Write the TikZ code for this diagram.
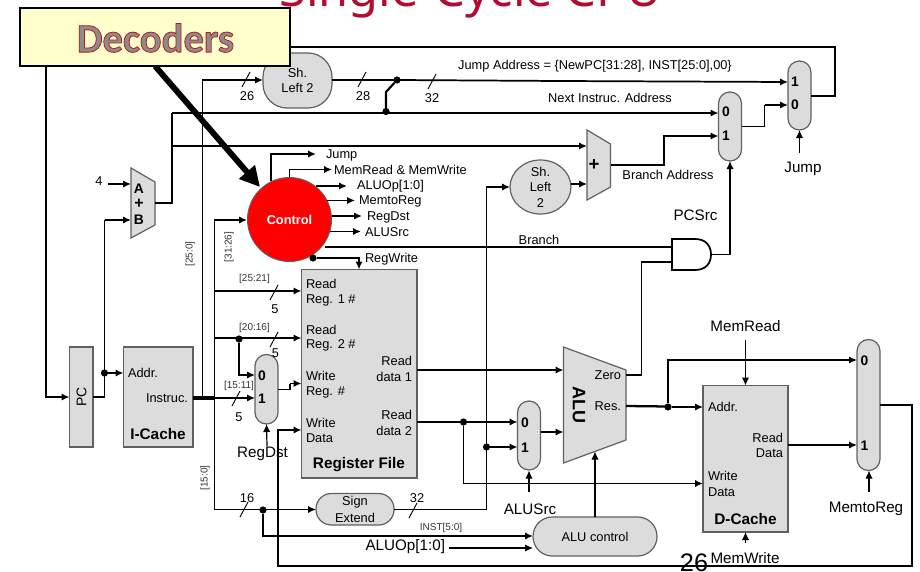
\documentclass[tikz,border=0pt]{standalone}
\usepackage{fontspec}
\setmainfont{Liberation Sans}
\newfontfamily\titlefont{Noto Sans}
\newfontfamily\boxfont{Carlito}[FakeBold=0]
\usetikzlibrary{arrows.meta,shapes.geometric}
\definecolor{blockgray}{HTML}{DCDCDC}
\definecolor{edgegray}{HTML}{606060}
\definecolor{titlered}{HTML}{B00D30}
\definecolor{noteyellow}{HTML}{FFFFCC}
\newcommand\blk[6]{\node[#6,minimum width={(#4-#2)*0.75pt},minimum height={(#5-#3)*0.75pt}] (#1) at ({(#2+#4)/2},{(#3+#5)/2}) {};}
\newcommand\slashmark[2]{\draw[tickline] ({#1-4},{#2+8}) -- ({#1+4},{#2-7});}
\tikzset{
  x=0.75pt,y=-0.75pt,
  wire/.style={line width=1.3pt,black},
  arr/.style={wire,-{Latex[length=6pt,width=5.5pt]}},
  thinarr/.style={line width=0.9pt,black,-{Latex[length=6pt,width=5.5pt]}},
  tickline/.style={line width=0.7pt,black},
  bus/.style={line width=2.4pt,black},
  blockbox/.style={draw=edgegray,line width=0.9pt,fill=blockgray,inner sep=0pt,outer sep=0pt},
  muxbox/.style={blockbox,rounded corners=8.6pt},
  lbl/.style={inner sep=0pt,outer sep=0pt,font=\fontsize{9.6pt}{10pt}\selectfont},
  lblbig/.style={lbl,font=\fontsize{11.4pt}{12pt}\selectfont},
  lblsmall/.style={lbl,font=\fontsize{7.5pt}{8pt}\selectfont,text=black!80},
  lbold/.style={lbl,font=\fontsize{10.4pt}{11pt}\bfseries\selectfont},
  titlebold/.style={lbl,font=\fontsize{11.5pt}{12pt}\bfseries\selectfont},
  dotmark/.style={circle,fill=black,inner sep=0pt,minimum size=5.4pt,outer sep=0pt},
}
\begin{document}
\begin{tikzpicture}
\useasboundingbox (0,0) rectangle (920,571);
\begin{scope}
\clip (0,0) rectangle (920,571);
\node[inner sep=0pt,anchor=base,text=titlered,font=\fontsize{36.5pt}{38pt}\titlefont] (title) at (470.5,7) {Single-Cycle CPU};
\end{scope}

% blocks
\blk{pc}{69.5}{347}{93}{447}{blockbox}
\blk{icache}{123.5}{347}{193}{447}{blockbox}
\blk{reg}{301.5}{269.5}{417}{478}{blockbox}
\blk{dcache}{703}{385.5}{788}{532}{blockbox}
\blk{muxpc}{718.5}{92}{741.5}{161}{muxbox}
\blk{muxj}{788}{61}{811}{130}{muxbox}
\blk{muxrd}{255}{354.5}{278}{424}{muxbox}
\blk{muxalu}{517.5}{401}{540.5}{470}{muxbox}
\blk{muxmem}{857}{339.5}{880}{470.5}{muxbox}
\blk{sla}{263}{53}{332}{108}{blockbox,rounded corners=18pt}
\blk{sext}{316}{493.5}{394}{525}{blockbox,rounded corners=11.5pt}
\blk{aluc}{533}{517}{657}{556}{blockbox,rounded corners=14.5pt}
\node[blockbox,ellipse,minimum width=45.7pt,minimum height=40.5pt] (slb) at (540.5,187) {};
\draw[blockbox] (131,168) -- (155,182) -- (155,225) -- (131,238) -- cycle;
\draw[blockbox] (587,130) -- (610.5,144) -- (610.5,187) -- (587,200) -- cycle;
\draw[blockbox] (563.5,347) -- (626,370) -- (626,440) -- (563.5,463) -- cycle;
\coordinate (adda) at (131,184);
\coordinate (addb) at (131,220);
\coordinate (addo) at (155,203);
\coordinate (addbt) at (587,146);
\coordinate (addbb) at (587,184);
\coordinate (addbo) at (610.5,165);
\coordinate (alua) at (563.5,370);
\coordinate (alub) at (563.5,432);
\coordinate (aluzero) at (626,375);
\coordinate (alures) at (626,406);
\coordinate (aluc-in) at (595,451.5);
\coordinate (bus1) at (202.5,398);
\coordinate (bus2) at (214.5,398);
\coordinate (fourtail) at (108,184);
\coordinate (rdsel) at (267,446);
\coordinate (alusel) at (529,492);
\coordinate (memsel) at (869,492);
\coordinate (jsel) at (799.5,153);
\coordinate (mrsel) at (745.5,340);
\coordinate (mwsel) at (745.5,543);

% AND gate
\draw[wire,fill=white] (672,239) -- (695,239) .. controls (706,239) and (711,246) .. (711,254.5) .. controls (711,263) and (706,270) .. (695,270) -- (672,270) -- cycle;
\coordinate (anda) at (672,247);
\coordinate (andb) at (672,262);
\coordinate (ando) at (711,254.5);

% wires: PC and instruction paths
\draw[arr] (muxj.east |- 0,96) -- (835,96) -- (835,47) -- (46,47) -- (46,397) -- (pc.west |- 0,397);
\draw[wire] (pc.east |- 0,397) -- (104.5,397) -- (104.5,220);
\draw[arr] (104.5,220) -- (addb);
\node[dotmark] (dpc) at (104.5,373) {};
\draw[arr] (dpc) -- (icache.west |- dpc);
\draw[arr] (fourtail) -- (adda);
\draw[wire] (addo) -- (172,203) -- (172,113);
\draw[arr] (172,113) -- (muxpc.west |- 0,113);
\draw[arr] (172,146) -- (addbt);
\draw[bus] (icache.east |- bus1) -- (bus2);
\draw[arr] (bus1) -- (202.5,80) -- (sla.west |- 0,80);
\draw[arr] (bus2) -- (214.5,220) -- (247,220);
\draw[arr] (bus2) -- (214.5,509.5) -- (sext.west |- 0,509.5);
\draw[wire] (sla.east |- 0,80) -- (397,80);
\draw[arr] (397,80) -- (560,81) -- (muxj.west |- 0,82);
\node[dotmark] (dj) at (397,80) {};
\node[dotmark] (dn) at (386,111.5) {};
\draw[line width=1.6pt] (dn) -- (386,92) -- (dj);
\draw[arr] (addbo) -- (664,165) -- (664,136) -- (muxpc.west |- 0,136);
\draw[wire] (muxpc.east |- 0,126.5) -- (764.5,126.5) -- (764.5,105);
\draw[arr] (764.5,105) -- (muxj.west |- 0,105);
\draw[thinarr] (jsel) -- (muxj.south);
\draw[arr] (slb.east) ++(0,-3) -- (addbb);
\draw[wire] (sext.east |- 0,509.5) -- (486.5,509.5);
\draw[arr] (486.5,509.5) -- (486.5,187) -- (slb.west);
\node[dotmark] (dse) at (486.5,447) {};
\draw[arr] (dse) -- (muxalu.west |- dse);
\node[dotmark] (drd) at (463.5,422) {};
\draw[wire] (reg.east |- drd) -- (drd);
\draw[arr] (drd) -- (muxalu.west |- drd);
\draw[arr] (drd) -- (463.5,483.5) -- (dcache.west |- 0,483.5);
\draw[arr] (reg.east |- 0,370) -- (alua);
\draw[arr] (muxalu.east |- alub) -- (alub);
\draw[thinarr] (alusel) -- (529,470.5);
\draw[wire] (aluzero) -- (641.5,375) -- (641.5,262) -- (andb);
\draw[wire] (ando) -- (730,254.5);
\draw[arr] (730,254.5) -- (muxpc.south);
\draw[line width=1.7pt] (alures) -- (668,406.5);
\node[dotmark] (dres) at (668,407) {};
\draw[arr] (dres) -- (dcache.west |- dres);
\draw[arr] (dres) -- (668,360) -- (muxmem.west |- 0,360);
\draw[arr] (dcache.east |- 0,445) -- (muxmem.west |- 0,445);
\draw[thinarr] (memsel) -- (muxmem.south -| memsel);
\draw[thinarr] (mrsel) -- (dcache.north);
\draw[thinarr] (mwsel) -- (dcache.south);
\draw[arr] (muxmem.east |- 0,405) -- (912,405) -- (912,566) -- (278,566) -- (278,430) -- (reg.west |- 0,430);
\draw[thinarr] (aluc.north -| aluc-in) -- (aluc-in);

% register selectors
\draw[arr] (214.5,291) -- (reg.west |- 0,291);
\draw[arr] (214.5,338) -- (reg.west |- 0,338);
\node[dotmark] (dr2) at (239,339) {};
\draw[arr] (dr2) -- (239,375) -- (muxrd.west |- 0,375);
\draw[arr] (214.5,398) -- (muxrd.west |- 0,398);
\draw[wire] (muxrd.east |- 0,389.5) -- (290,389.5) -- (290,383.5);
\draw[arr] (290,383.5) -- (reg.west |- 0,383.5);
\draw[thinarr] (rdsel) -- (muxrd.south);
\node[dotmark] (dimm) at (263,510) {};
\draw[arr] (dimm) -- (263,536) -- (aluc.west |- 0,536);
\coordinate (aluoptail) at (449,548);
\draw[thinarr] (aluoptail) -- (aluc.west |- aluoptail);

% slashes
\slashmark{246}{79}
\slashmark{362}{79}
\slashmark{432}{81}
\slashmark{274}{292}
\slashmark{274}{339}
\slashmark{236}{398}
\slashmark{244}{509}
\slashmark{413}{510}

% control signals
\node[circle,draw=edgegray,line width=0.7pt,fill=red,minimum size=63pt,inner sep=0pt,text=white,font=\fontsize{9.6pt}{10pt}\bfseries\selectfont] (ctrl) at (289.5,219.5) {Control};
\draw[arr] (271,181) -- (271,154) -- (316,154);
\draw[arr] (ctrl.north) -- (289.5,169.5) -- (332,169.5);
\draw[arr] (316,186) -- (347,186);
\draw[arr] (327,200.5) -- (355,200.5);
\draw[arr] (ctrl.east |- 0,216) -- (362,216);
\draw[arr] (330,231.5) -- (361,231.5);
\draw[wire] (325,247) -- (anda);
\node[dotmark] (dreg) at (313,258) {};
\draw[arr] (dreg) -- (359,258) -- (359,269.5);

% block texts
\node[lbl,rotate=90,font=\fontsize{10.5pt}{11pt}\selectfont] (tpc) at (81.5,397) {PC};
\node[lbl,anchor=west] (t1) at (128,373) {Addr.};
\node[lbl,anchor=east] (t2) at (188,398) {Instruc.};
\node[titlebold] (t3) at (158,434) {I-Cache};
\node[lbold] (ta) at (139,189) {A};
\node[lbold,font=\fontsize{12pt}{12pt}\bfseries\selectfont] (tp) at (139,204) {+};
\node[lbold] (tb) at (139,220) {B};
\node[lbl] (t4) at (99,181) {4};
\node[lbl] (t5) at (297.5,73) {Sh.};
\node[lbl] (t6) at (297.5,88) {Left 2};
\node[lbl] (n26) at (247,96) {26};
\node[lbl] (n28) at (363,96) {28};
\node[lbl] (n32) at (432,98) {32};
\node[lbl] (tja) at (595,66) {Jump Address = \{NewPC[31:28], INST[25:0],00\}};
\node[lbl] (tna) at (610,97.5) {Next Instruc. Address};
\node[lbold] (j1) at (795,82) {1};
\node[lbold] (j0) at (795,105) {0};
\node[lbold] (m0) at (726,112) {0};
\node[lbold] (m1) at (726,136) {1};
\node[lblbig] (tjump) at (803,169) {Jump};
\node[lbold,font=\fontsize{14pt}{14pt}\bfseries\selectfont] (tp2) at (594,165) {+};
\node[lbl] (tba) at (668,174.5) {Branch Address};
\node[lbl] (s1) at (540.5,172) {Sh.};
\node[lbl] (s2) at (540.5,187) {Left};
\node[lbl] (s3) at (540.5,203) {2};
\node[lblbig] (tpcs) at (695.5,215) {PCSrc};
\node[lbl] (tbr) at (539,240) {Branch};
\node[lbl,anchor=west] (c1) at (326,155) {Jump};
\node[lbl,anchor=west] (c2) at (334,170) {MemRead \& MemWrite};
\node[lbl,anchor=west] (c3) at (357,186) {ALUOp[1:0]};
\node[lbl,anchor=west] (c4) at (359,201) {MemtoReg};
\node[lbl,anchor=west] (c5) at (367,217) {RegDst};
\node[lbl,anchor=west] (c6) at (365,232) {ALUSrc};
\node[lbl,anchor=west] (c7) at (365,259.5) {RegWrite};
\node[lblsmall,rotate=90] (b1) at (190,254) {[25:0]};
\node[lblsmall,rotate=90] (b2) at (229,247) {[31:26]};
\node[lblsmall,rotate=90] (b3) at (205,478) {[15:0]};
\node[lblsmall] (b4) at (254.5,279) {[25:21]};
\node[lblsmall] (b5) at (254.5,327.5) {[20:16]};
\node[lblsmall] (b6) at (239,385.5) {[15:11]};
\node[lbl] (f1) at (275,309.5) {5};
\node[lbl] (f2) at (275.5,353) {5};
\node[lbl] (f3) at (239,417.5) {5};
\node[lbl] (n16) at (247,498) {16};
\node[lbl] (n32b) at (417,498) {32};
\node[lbl,anchor=west] (r1) at (306,284) {Read};
\node[lbl,anchor=west] (r2) at (306,300) {Reg. 1 \#};
\node[lbl,anchor=west] (r3) at (306,329.5) {Read};
\node[lbl,anchor=west] (r4) at (306,345.5) {Reg. 2 \#};
\node[lbl,anchor=west] (r5) at (306,376) {Write};
\node[lbl,anchor=west] (r6) at (306,392.5) {Reg. \#};
\node[lbl,anchor=west] (r7) at (306,422.5) {Write};
\node[lbl,anchor=west] (r8) at (306,438.5) {Data};
\node[lbl,anchor=east] (r9) at (412,360.5) {Read};
\node[lbl,anchor=east] (r10) at (412,376.5) {data 1};
\node[lbl,anchor=east] (r11) at (412,414.5) {Read};
\node[lbl,anchor=east] (r12) at (412,430.5) {data 2};
\node[titlebold] (rf) at (359,465) {Register File};
\node[lbold] (q0) at (262,376) {0};
\node[lbold] (q1) at (262,398.5) {1};
\node[lblbig] (trd) at (262.5,454) {RegDst};
\node[lbl] (se1) at (355,502) {Sign};
\node[lbl] (se2) at (355,517.5) {Extend};
\node[lblsmall] (ti) at (441,528) {INST[5:0]};
\node[lblbig,anchor=east] (tao) at (445,547) {ALUOp[1:0]};
\node[lbold] (u0) at (525,422.5) {0};
\node[lbold] (u1) at (525,447.5) {1};
\node[lblbig] (tas) at (530,509) {ALUSrc};
\node[lbl,anchor=east] (z1) at (621,375.5) {Zero};
\node[lbl,anchor=east] (z2) at (621,406.5) {Res.};
\node[lbold,rotate=-90,font=\fontsize{13.5pt}{14pt}\bfseries\selectfont] (talu) at (579,405) {ALU};
\node[lbl] (tac) at (595,537) {ALU control};
\node[lbl,anchor=west] (d1) at (708,407) {Addr.};
\node[lbl,anchor=east] (d2) at (783,437.5) {Read};
\node[lbl,anchor=east] (d3) at (783,453.5) {Data};
\node[lbl,anchor=west] (d4) at (708,476) {Write};
\node[lbl,anchor=west] (d5) at (708,492.5) {Data};
\node[titlebold] (d6) at (745.5,519) {D-Cache};
\node[lblbig] (tmr) at (745.5,326) {MemRead};
\node[lblbig] (tmw) at (745,558) {MemWrite};
\node[lbold] (k0) at (864.5,360.5) {0};
\node[lbold] (k1) at (864.5,445.5) {1};
\node[lblbig] (tmtr) at (866,509) {MemtoReg};
\node[lbl,font=\fontsize{19pt}{19pt}\selectfont] (pnum) at (694,563) {26};

% decoders callout
\coordinate (ctail) at (155,66);
\coordinate (ctip) at (260,187);
\draw[line width=4.4pt,-{Triangle[length=15pt,width=15pt]}] (ctail) -- (ctip);
\node[draw=black,line width=1.6pt,fill=noteyellow,minimum width=202pt,minimum height=44pt,inner sep=0pt] (dec) at (155,37) {};
\node[inner sep=0pt] (dect) at (155.5,38) {\fontsize{30.5pt}{32pt}\boxfont\bfseries\special{pdf:code q 2 Tr 0.75 0.1 0.1 RG 0.55 0.55 0.55 rg 0.6 w}Decoders\special{pdf:code Q}};
\end{tikzpicture}
\end{document}
